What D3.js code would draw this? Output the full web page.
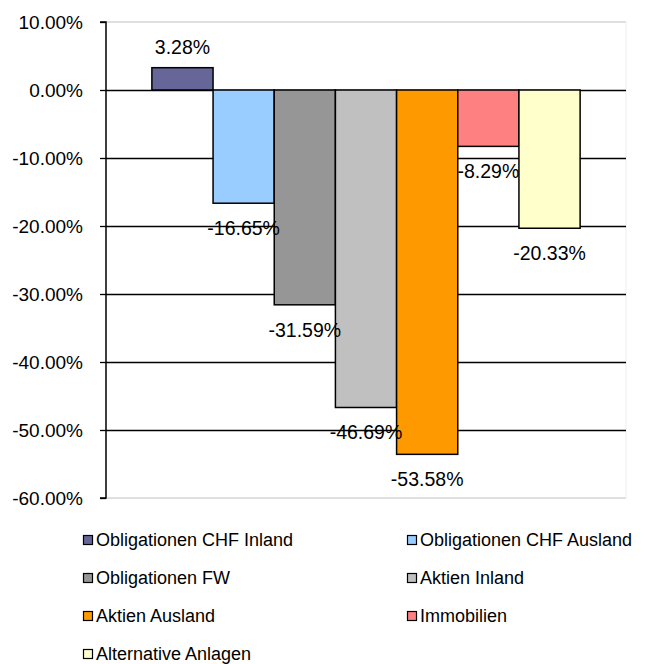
<!DOCTYPE html>
<html><head><meta charset="utf-8">
<script src="https://cdn.jsdelivr.net/npm/d3@7"></script>
<style>body{margin:0;background:#fff;} svg{display:block;font-family:"Liberation Sans",Arial,sans-serif;}</style>
</head><body><svg id="c" width="646" height="664"></svg>
<script>
const categories = ["Obligationen CHF Inland","Obligationen CHF Ausland","Obligationen FW","Aktien Inland","Aktien Ausland","Immobilien","Alternative Anlagen"];
const values = [3.28, -16.65, -31.59, -46.69, -53.58, -8.29, -20.33];
const colors = ["#666699","#99CCFF","#969696","#C0C0C0","#FF9900","#FF8080","#FFFFCC"];
const tickValues = [10, 0, -10, -20, -30, -40, -50, -60];

const svg = d3.select("#c");
const L = 106, R = 626, T = 22, B = 498;
const y = d3.scaleLinear().domain([-60, 10]).range([B, T]);
const x = d3.scaleBand().domain(categories).range([L, R]).paddingInner(0).paddingOuter(0.75);

// plot border (light)
svg.append("line").attr("x1", L).attr("x2", R).attr("y1", T).attr("y2", T).attr("stroke", "#c0c0c0").attr("stroke-width", 1);
svg.append("line").attr("x1", L).attr("x2", R).attr("y1", B).attr("y2", B).attr("stroke", "#c0c0c0").attr("stroke-width", 1);
svg.append("line").attr("x1", R).attr("x2", R).attr("y1", T).attr("y2", B).attr("stroke", "#eeeeee").attr("stroke-width", 1);

// gridlines
svg.append("g").selectAll("line").data(tickValues.filter(v => v < 10 && v > -60)).join("line")
  .attr("x1", L).attr("x2", R).attr("y1", d => Math.round(y(d)) + 0.5).attr("y2", d => Math.round(y(d)) + 0.5)
  .attr("stroke", "#000").attr("stroke-width", 1.3);

// bars
svg.append("g").selectAll("rect").data(values).join("rect")
  .attr("x", (d, i) => x(categories[i]))
  .attr("width", x.bandwidth())
  .attr("y", d => y(Math.max(0, d)))
  .attr("height", d => Math.abs(y(d) - y(0)))
  .attr("fill", (d, i) => colors[i])
  .attr("stroke", "#000").attr("stroke-width", 1.5);

// axis
const axis = d3.axisLeft(y).tickValues(tickValues).tickSize(6).tickPadding(17)
  .tickFormat(d => d.toFixed(2) + "%");
const ag = svg.append("g").attr("transform", `translate(${L},0)`).call(axis);
ag.select(".domain").attr("stroke", "#000").attr("stroke-width", 1.5).attr("d", `M-6,${T}H0V${B}H-6`);
ag.selectAll(".tick line").attr("stroke", "#000").attr("stroke-width", 1.3);
ag.selectAll(".tick text").attr("font-size", 19).attr("fill", "#000").attr("font-family", "Liberation Sans, Arial, sans-serif");

// data labels
svg.append("g").selectAll("text").data(values).join("text")
  .attr("x", (d, i) => x(categories[i]) + x.bandwidth() / 2)
  .attr("y", d => d >= 0 ? y(d) - 21 : y(d) + 25)
  .attr("dy", "0.35em")
  .attr("text-anchor", "middle").attr("font-size", 19.5).attr("fill", "#000")
  .text(d => d.toFixed(2) + "%");

// legend
const leg = svg.append("g");
const items = leg.selectAll("g").data(categories).join("g")
  .attr("transform", (d, i) => `translate(${i % 2 === 0 ? 83 : 407},${540 + Math.floor(i / 2) * 38})`);
items.append("rect").attr("x", 0.5).attr("y", -4.5).attr("width", 9).attr("height", 9)
  .attr("fill", (d, i) => colors[i]).attr("stroke", "#000").attr("stroke-width", 1.2);
items.append("text").attr("x", 13).attr("y", 0).attr("dy", "0.35em")
  .attr("font-size", 18).attr("fill", "#000").text(d => d);
</script></body></html>
